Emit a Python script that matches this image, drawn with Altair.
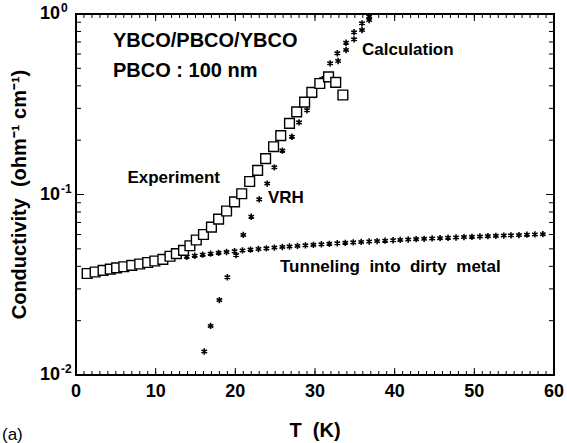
import altair as alt
import pandas as pd

# ---------------- data ----------------
# Experiment (open squares)
exp_T = [1.4, 2.4, 3.4, 4.3, 5.1, 6.0, 7.0, 8.0, 9.0, 9.9, 10.9, 11.8, 12.6, 13.5,
         14.3, 15.1, 16.0, 17.0, 17.9, 18.9, 19.9, 20.8, 21.8, 22.8, 23.8, 24.8,
         25.7, 26.8, 27.7, 28.7, 29.6, 30.6, 31.7, 32.6, 33.5]
exp_sigma = [0.0365, 0.0372, 0.038, 0.0386, 0.0392, 0.0398, 0.0405, 0.0412, 0.042,
             0.0428, 0.0437, 0.0455, 0.047, 0.049, 0.052, 0.056, 0.060, 0.066,
             0.073, 0.081, 0.091, 0.101, 0.118, 0.136, 0.158, 0.184, 0.212, 0.248,
             0.287, 0.325, 0.368, 0.412, 0.448, 0.418, 0.356]

# Calculation, VRH (asterisks)
vrh_T = [16.1, 16.9, 18.0, 19.0, 20.1, 21.0, 22.0, 23.0, 24.0, 24.9, 25.9, 27.1,
         28.0, 29.0, 29.9, 30.9, 31.9, 32.9, 32.8, 33.9, 33.9, 34.9, 34.9, 35.9,
         35.9, 36.8, 36.8]
vrh_sigma = [0.0135, 0.0187, 0.026, 0.0348, 0.0462, 0.0597, 0.0753, 0.094, 0.115,
             0.1415, 0.175, 0.209, 0.251, 0.293, 0.355, 0.436, 0.533, 0.549, 0.606,
             0.632, 0.693, 0.724, 0.792, 0.815, 0.888, 0.926, 0.966]

# Calculation, tunneling into dirty metal (asterisks)
tun_T = [13.9, 14.9, 15.9, 16.9, 17.9, 18.9, 19.9, 20.9, 21.9, 22.9, 23.9, 24.9,
         25.9, 26.8, 27.8, 28.8, 29.8, 30.8, 31.8, 32.8, 33.8, 34.8, 35.8, 36.8,
         37.8, 38.8, 39.8, 40.7, 41.7, 42.7, 43.7, 44.7, 45.7, 46.7, 47.7, 48.7,
         49.7, 50.7, 51.7, 52.7, 53.7, 54.6, 55.6, 56.6, 57.6, 58.6]
tun_sigma = [0.0452, 0.0458, 0.0464, 0.0470, 0.0475, 0.0480, 0.0485, 0.0490, 0.0495,
             0.0499, 0.0503, 0.0508, 0.0512, 0.0515, 0.0519, 0.0523, 0.0526, 0.0530,
             0.0533, 0.0537, 0.0540, 0.0543, 0.0546, 0.0549, 0.0552, 0.0555, 0.0558,
             0.0560, 0.0563, 0.0566, 0.0568, 0.0571, 0.0573, 0.0576, 0.0578, 0.0581,
             0.0583, 0.0585, 0.0588, 0.0590, 0.0592, 0.0594, 0.0596, 0.0599, 0.0601,
             0.0603]

# axis ticks / labels
x_major = [0, 10, 20, 30, 40, 50, 60]
x_minor = list(range(0, 61))
y_major = [0.01, 0.1, 1.0]
y_minor = [0.02, 0.03, 0.04, 0.05, 0.06, 0.07, 0.08, 0.09,
           0.2, 0.3, 0.4, 0.5, 0.6, 0.7, 0.8, 0.9]
y_exponents = ["-2", "-1", "0"]

# ---------------- chart ----------------
W, H = 478, 361
FONT = "Liberation Sans"
SP2 = "\u00a0\u00a0"  # double space that SVG will not collapse

xs = alt.Scale(domain=[0, 60], nice=False, zero=False)
ys = alt.Scale(type="log", domain=[0.01, 1], nice=False)


def X(f):
    return alt.X(f, type="quantitative", scale=xs, axis=None)


def Y(f):
    return alt.Y(f, type="quantitative", scale=ys, axis=None)


exp_df = pd.DataFrame({"T": exp_T, "s": exp_sigma})
vrh_df = pd.DataFrame({"T": vrh_T, "s": vrh_sigma})
tun_df = pd.DataFrame({"T": tun_T, "s": tun_sigma})
xmin_df = pd.DataFrame({"t": x_minor})
xmaj_df = pd.DataFrame({"t": x_major, "lab": [str(v) for v in x_major]})
ymin_df = pd.DataFrame({"v": y_minor})
ymaj_df = pd.DataFrame({"v": y_major, "e": y_exponents})
one = pd.DataFrame({"a": [0]})

rule = dict(color="black", strokeWidth=1)
layers = []
# bottom & top ticks
layers.append(alt.Chart(xmin_df).mark_rule(**rule).encode(x=X("t"), y=alt.value(H), y2=alt.value(H - 4)))
layers.append(alt.Chart(xmin_df).mark_rule(**rule).encode(x=X("t"), y=alt.value(0), y2=alt.value(4)))
layers.append(alt.Chart(xmaj_df).mark_rule(**rule).encode(x=X("t"), y=alt.value(H), y2=alt.value(H - 7)))
layers.append(alt.Chart(xmaj_df).mark_rule(**rule).encode(x=X("t"), y=alt.value(0), y2=alt.value(7)))
# left & right ticks
layers.append(alt.Chart(ymin_df).mark_rule(**rule).encode(y=Y("v"), x=alt.value(0), x2=alt.value(5)))
layers.append(alt.Chart(ymin_df).mark_rule(**rule).encode(y=Y("v"), x=alt.value(W), x2=alt.value(W - 5)))
layers.append(alt.Chart(ymaj_df).mark_rule(**rule).encode(y=Y("v"), x=alt.value(0), x2=alt.value(8)))
layers.append(alt.Chart(ymaj_df).mark_rule(**rule).encode(y=Y("v"), x=alt.value(W), x2=alt.value(W - 8)))

ASTER = "M0,-1L0,1M-0.87,-0.5L0.87,0.5M-0.87,0.5L0.87,-0.5"
ast = dict(shape=ASTER, filled=False, stroke="black", strokeWidth=1.6, size=40, opacity=1)
layers.append(alt.Chart(tun_df).mark_point(**ast).encode(x=X("T"), y=Y("s")))
layers.append(alt.Chart(vrh_df).mark_point(**ast).encode(x=X("T"), y=Y("s")))
layers.append(
    alt.Chart(exp_df)
    .mark_point(shape="square", filled=True, fill="white", stroke="black",
                strokeWidth=1.4, size=95, opacity=1)
    .encode(x=X("T"), y=Y("s"))
)

# axis labels
layers.append(
    alt.Chart(xmaj_df)
    .mark_text(font=FONT, fontWeight="bold", fontSize=18, baseline="middle", align="center")
    .encode(x=X("t"), y=alt.value(H + 17), text="lab:N")
)
layers.append(
    alt.Chart(ymaj_df)
    .mark_text(font=FONT, fontWeight="bold", fontSize=18, baseline="middle", align="right")
    .encode(y=Y("v"), x=alt.value(-16), text=alt.value("10"))
)
layers.append(
    alt.Chart(ymaj_df)
    .mark_text(font=FONT, fontWeight="bold", fontSize=12, baseline="middle", align="left", dy=-6)
    .encode(y=Y("v"), x=alt.value(-15), text="e:N")
)


def label(txt, x, y, size=17, align="left", weight="bold", angle=None, baseline="alphabetic"):
    kw = dict(font=FONT, fontWeight=weight, fontSize=size, align=align, baseline=baseline)
    if angle is not None:
        kw["angle"] = angle
    return alt.Chart(one).mark_text(**kw).encode(x=alt.value(x), y=alt.value(y), text=alt.value(txt))


layers += [
    label("YBCO/PBCO/YBCO", 37, 33, size=20),
    label("PBCO : 100 nm", 37, 63, size=20),
    label("Calculation", 286, 41),
    label("Experiment", 144, 169, align="right"),
    label("VRH", 192, 189),
    label("Tunneling" + SP2 + "into" + SP2 + "dirty" + SP2 + "metal", 204, 258),
    label("T" + SP2 + "(K)", 239, 423, size=20, align="center"),
    label("(a)", -74, 426, weight="normal"),
    label("Conductivity" + SP2 + "(ohm\u207b\u00b9 cm\u207b\u00b9)", -56, H / 2, size=20,
          align="center", angle=270, baseline="middle"),
]

chart = (
    alt.layer(*layers)
    .properties(
        width=W,
        height=H,
        padding={"left": 76, "top": 14, "right": 13, "bottom": 68},
        autosize=alt.AutoSizeParams(type="none"),
    )
    .configure_view(stroke="black", strokeWidth=2)
)

chart.save("out.html", embed_options={"renderer": "svg", "actions": False})
